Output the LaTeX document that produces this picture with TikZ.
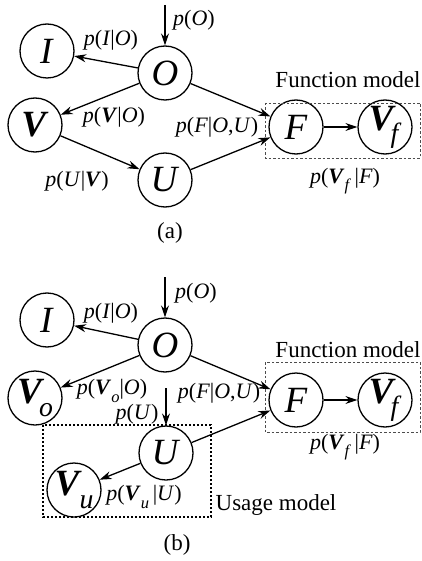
\documentclass[tikz,border=0pt]{standalone}
\usepackage{fontspec}
\setmainfont{Liberation Serif}
\usetikzlibrary{arrows.meta}

% italic variable, bold italic vector, lowered italic subscript
\newcommand{\iv}[1]{\textit{#1}}
\newcommand{\bv}[1]{\textbf{\textit{#1}}}
\newcommand{\lsub}[1]{\raisebox{-0.33em}{\scalebox{0.75}{\textit{#1}}}}

\tikzset{
  var/.style={circle, draw, line width=1.3pt, minimum size=54pt, inner sep=0pt,
              font=\fontsize{37}{37}\selectfont},
  lbl/.style={font=\fontsize{22}{22}\selectfont, inner sep=0pt},
  captxt/.style={font=\fontsize{23}{23}\selectfont, inner sep=0pt},
  arr/.style={line width=1.3pt, -{Stealth[length=12pt,width=8pt]}},
  funcbox/.style={draw=black!70, line width=0.9pt, dash pattern=on 2.5pt off 2pt},
  usebox/.style={draw, line width=1.3pt, dash pattern=on 2pt off 2pt},
}

\begin{document}
\begin{tikzpicture}[x=1pt,y=-1pt]
\useasboundingbox (0,0) rectangle (422,561);

% ---------------- (a) ----------------
\node[var] (Ia) at (47,51) {\iv{I}};
\node[var] (Oa) at (165,73) {\iv{O}};
\node[var] (Va) at (35,125) {\bv{V}};
\node[var] (Ua) at (165,180) {\iv{U}};
\node[var] (Fa) at (296,127) {\iv{F}};
\node[var] (Vfa) at (385,127) {\bv{V}\kern-0.14em\lsub{f}};
\coordinate (srcOa) at (165,5);

\draw[funcbox] (265,103) rectangle (420,158);
\node[captxt] (fma) at (348,80) {Function model};

\draw[arr] (srcOa) -- (Oa);
\draw[arr] (Oa) -- (Ia);
\draw[arr] (Oa) -- (Va);
\draw[arr] (Oa) -- (Fa);
\draw[arr] (Va) -- (Ua);
\draw[arr] (Ua) -- (Fa);
\draw[arr] (Fa) -- (Vfa);

\node[lbl] (lOa) at (194,20) {\iv{p}(\iv{O})};
\node[lbl] (lIOa) at (111,40) {\iv{p}(\iv{I}|\iv{O})};
\node[lbl] (lVOa) at (114,117) {\iv{p}(\bv{V}|\iv{O})};
\node[lbl] (lUVa) at (77,181) {\iv{p}(\iv{U}|\bv{V})};
\node[lbl] (lFa) at (217,127) {\iv{p}(\iv{F}|\iv{O},\iv{U})};
\node[lbl] (lVfa) at (345,181) {\iv{p}(\bv{V}\lsub{f}\,|\iv{F})};
\node[captxt] (capa) at (170,233) {(a)};

% ---------------- (b) ----------------
\node[var] (Ib) at (47,320) {\iv{I}};
\node[var] (Ob) at (165,345) {\iv{O}};
\node[var] (Vob) at (35,398) {\bv{V}\kern-0.14em\lsub{o}};
\node[var] (Ub) at (166,453) {\iv{U}};
\node[var] (Vub) at (74,490) {\bv{V}\kern-0.06em\lsub{u}};
\node[var] (Fb) at (296,400) {\iv{F}};
\node[var] (Vfb) at (385,400) {\bv{V}\kern-0.14em\lsub{f}};
\coordinate (srcOb) at (165,277);
\coordinate (srcUb) at (166,388);

\draw[funcbox] (265,362) rectangle (420,432);
\node[captxt] (fmb) at (348,350) {Function model};
\draw[usebox] (43,425) rectangle (211,517);
\node[captxt] (umb) at (276,505) {Usage model};

\draw[arr] (srcOb) -- (Ob);
\draw[arr] (Ob) -- (Ib);
\draw[arr] (Ob) -- (Vob);
\draw[arr] (Ob) -- (Fb);
\draw[arr] (srcUb) -- (Ub);
\draw[arr] (Ub) -- (Vub);
\draw[arr] (Ub) -- (Fb);
\draw[arr] (Fb) -- (Vfb);

\node[lbl] (lOb) at (196,293) {\iv{p}(\iv{O})};
\node[lbl] (lIOb) at (111,313) {\iv{p}(\iv{I}|\iv{O})};
\node[lbl] (lVOb) at (112,391) {\iv{p}(\bv{V}\lsub{o}|\iv{O})};
\node[lbl] (lUb) at (137,414) {\iv{p}(\iv{U})};
\node[lbl] (lFb) at (219,393) {\iv{p}(\iv{F}|\iv{O},\iv{U})};
\node[lbl] (lVub) at (144,497) {\iv{p}(\bv{V}\lsub{u}\,|\iv{U})};
\node[lbl] (lVfb) at (345,447) {\iv{p}(\bv{V}\lsub{f}\,|\iv{F})};
\node[captxt] (capb) at (177,545) {(b)};
\end{tikzpicture}
\end{document}
